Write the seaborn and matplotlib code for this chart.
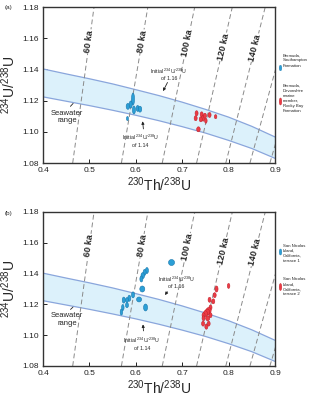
import numpy as np
import pandas as pd
import seaborn as sns
import matplotlib
matplotlib.use("Agg")
import matplotlib.pyplot as plt
from matplotlib.patches import Ellipse

# isochron ages and their 230Th/238U values at the bottom (1.08) and top (1.18) of the axes
ages = [60, 80, 100, 120, 140, 160, 180]
age_labels = ["60 ka", "80 ka", "100 ka", "120 ka", "140 ka", None, None]
th_at_108 = [0.464, 0.569, 0.657, 0.731, 0.794, 0.846, 0.889]
th_at_118 = [0.510, 0.626, 0.727, 0.808, 0.879, 0.938, 0.987]

# seawater band edges (initial 234U/238U of 1.16 and 1.14)
band_th = [0.40, 0.45, 0.50, 0.55, 0.60, 0.65, 0.70, 0.75, 0.80, 0.85, 0.90]
band_upper = [1.1403, 1.1371, 1.1340, 1.1307, 1.1270, 1.1232, 1.1190, 1.1144, 1.1094, 1.1035, 1.0967]
band_lower = [1.1224, 1.1196, 1.1168, 1.1138, 1.1106, 1.1071, 1.1033, 1.0992, 1.0945, 1.0893, 1.0830]

# (a) Bermuda
a_blue_th = [0.594, 0.583, 0.589, 0.596, 0.604, 0.609, 0.582]
a_blue_u = [1.1210, 1.1163, 1.1175, 1.1140, 1.1150, 1.1145, 1.1085]
a_blue_w = [0.0065, 0.0076, 0.0065, 0.0065, 0.0065, 0.0076, 0.0043]
a_blue_h = [0.0077, 0.0038, 0.0045, 0.0051, 0.0038, 0.0038, 0.0026]

a_red_th = [0.731, 0.729, 0.742, 0.745, 0.749, 0.751, 0.759, 0.772, 0.735, 0.740]
a_red_u = [1.1119, 1.1087, 1.1112, 1.1087, 1.1103, 1.1071, 1.1108, 1.1097, 1.1016, 1.1080]
a_red_w = [0.0065, 0.0065, 0.0065, 0.0065, 0.0065, 0.0054, 0.0065, 0.0054, 0.0076, 0.0065]
a_red_h = [0.0032, 0.0032, 0.0032, 0.0038, 0.0032, 0.0032, 0.0032, 0.0026, 0.0032, 0.0032]

# (b) San Nicolas Island
b_blue_th = [0.677, 0.624, 0.619, 0.615, 0.612, 0.614, 0.607, 0.621, 0.594, 0.586, 0.581, 0.574, 0.572, 0.569, 0.581]
b_blue_u = [1.1472, 1.1420, 1.1408, 1.1387, 1.1365, 1.1300, 1.1232, 1.1180, 1.1262, 1.1240, 1.1228, 1.1228, 1.1180, 1.1150, 1.1195]
b_blue_w = [0.0130, 0.0065, 0.0065, 0.0076, 0.0065, 0.0108, 0.0108, 0.0086, 0.0065, 0.0065, 0.0065, 0.0065, 0.0054, 0.0054, 0.0065]
b_blue_h = [0.0039, 0.0039, 0.0039, 0.0039, 0.0039, 0.0039, 0.0032, 0.0045, 0.0039, 0.0039, 0.0032, 0.0039, 0.0039, 0.0039, 0.0032]

b_red_th = [0.800, 0.774, 0.770, 0.767, 0.759, 0.761, 0.757, 0.754, 0.750, 0.746, 0.761, 0.755, 0.746, 0.745, 0.757, 0.752]
b_red_u = [1.1320, 1.1300, 1.1260, 1.1220, 1.1230, 1.1180, 1.1160, 1.1150, 1.1140, 1.1130, 1.1130, 1.1110, 1.1110, 1.1075, 1.1075, 1.1055]
b_red_w = [0.0054, 0.0065, 0.0065, 0.0065, 0.0065, 0.0065, 0.0108, 0.0108, 0.0086, 0.0065, 0.0065, 0.0086, 0.0065, 0.0065, 0.0065, 0.0065]
b_red_h = [0.0032, 0.0039, 0.0032, 0.0032, 0.0032, 0.0032, 0.0039, 0.0039, 0.0039, 0.0032, 0.0032, 0.0032, 0.0032, 0.0032, 0.0032, 0.0032]

x_ticks = [0.4, 0.5, 0.6, 0.7, 0.8, 0.9]
y_ticks = [1.08, 1.10, 1.12, 1.14, 1.16, 1.18]

BLUE, BLUE_EDGE = "#2b9fd6", "#1b78ad"
RED, RED_EDGE = "#ec3b45", "#c4222c"

sns.set_style("white")
plt.rcParams["font.family"] = ["Liberation Sans", "DejaVu Sans"]
plt.rcParams["mathtext.fontset"] = "custom"
plt.rcParams["mathtext.rm"] = "Liberation Sans"
plt.rcParams["mathtext.it"] = "Liberation Sans"

W, H = 320, 398
fig = plt.figure(figsize=(W / 100, H / 100), dpi=100)


def px_box(left, top, right, bottom):
    return [left / W, 1 - bottom / H, (right - left) / W, (bottom - top) / H]


iso = pd.DataFrame({
    "age": np.repeat(ages, 2),
    "th": [v for pair in zip(th_at_108, th_at_118) for v in pair],
    "u": [1.08, 1.18] * len(ages),
})


def draw_panel(ax, blue, red, label_y, ann):
    ax.set_xlim(0.4, 0.9)
    ax.set_ylim(1.08, 1.18)

    poly_x = band_th + band_th[::-1]
    poly_y = band_upper + band_lower[::-1]
    ax.fill(poly_x, poly_y, color="#dcf1fb", lw=0, zorder=1)
    sns.lineplot(x=band_th, y=band_upper, ax=ax, color="#8aa6dc", lw=0.9, zorder=2)
    sns.lineplot(x=band_th, y=band_lower, ax=ax, color="#8aa6dc", lw=0.9, zorder=2)

    sns.lineplot(data=iso, x="th", y="u", units="age", estimator=None, sort=False,
                 ax=ax, color="#8a8a8a", lw=0.7, linestyle=(0, (5, 3)), zorder=3)

    for (xs, ys, ws, hs), fc, ec in [(blue, BLUE, BLUE_EDGE), (red, RED, RED_EDGE)]:
        for x, y, w, h in zip(xs, ys, ws, hs):
            ax.add_patch(Ellipse((x, y), w, h, fc=fc, ec=ec, lw=0.4, zorder=5))

    # age labels sitting on the isochrons
    for lab, xb, xt, ly in zip(age_labels, th_at_108, th_at_118, label_y):
        if lab is None:
            continue
        p1 = ax.transData.transform((xb, 1.08))
        p2 = ax.transData.transform((xt, 1.18))
        ang = np.degrees(np.arctan2(p2[1] - p1[1], p2[0] - p1[0]))
        lx = xb + (ly - 1.08) / 0.1 * (xt - xb)
        ax.text(lx, ly, lab, rotation=ang, rotation_mode="anchor", ha="center", va="center",
                fontsize=6.5, fontweight="bold", zorder=6,
                bbox=dict(fc="white", ec="none", pad=0.6))

    sw, sw_line, i16, i16_arrow, i14, i14_arrow = ann
    ax.text(sw[0], sw[1], "Seawater\nrange", ha="center", va="center", fontsize=5.5,
            linespacing=1.05, zorder=6)
    ax.annotate("", xy=sw_line[1], xytext=sw_line[0],
                arrowprops=dict(arrowstyle="-", lw=0.6, color="#222222"), zorder=6)
    txt16 = r"Initial $^{234}$U/$^{238}$U" + "\nof 1.16"
    txt14 = r"Initial $^{234}$U/$^{238}$U" + "\nof 1.14"
    ax.text(i16[0], i16[1], txt16, ha="center", va="center", fontsize=3.8, linespacing=1.1, zorder=6)
    ax.annotate("", xy=i16_arrow[1], xytext=i16_arrow[0],
                arrowprops=dict(arrowstyle="-|>", lw=0.6, color="#222222",
                                mutation_scale=4), zorder=6)
    ax.text(i14[0], i14[1], txt14, ha="center", va="center", fontsize=3.8, linespacing=1.1, zorder=6)
    ax.annotate("", xy=i14_arrow[1], xytext=i14_arrow[0],
                arrowprops=dict(arrowstyle="-|>", lw=0.6, color="#222222",
                                mutation_scale=4), zorder=6)

    ax.set_xticks(x_ticks)
    ax.set_xticklabels([f"{t:.1f}" for t in x_ticks])
    ax.set_yticks(y_ticks)
    ax.set_yticklabels([f"{t:.2f}" for t in y_ticks])
    ax.tick_params(direction="in", length=3, width=0.7, labelsize=6, pad=3,
                   bottom=True, left=True, colors="#222222")
    for s in ax.spines.values():
        s.set_linewidth(1.0)
        s.set_color("#333333")
        s.set_zorder(7)
    ax.set_xlabel(r"$^{230}$Th/$^{238}$U", fontsize=10, labelpad=1)
    ax.set_ylabel(r"$^{234}$U/$^{238}$U", fontsize=10, labelpad=3)


def legend_entry(y_marker, h_marker, y_text, text, fc, ec):
    fig.add_artist(Ellipse((280.5 / W, 1 - y_marker / H), 2.6 / W, h_marker / H,
                           transform=fig.transFigure, fc=fc, ec=ec, lw=0.3))
    fig.text(283 / W, 1 - y_text / H, text, ha="left", va="center", fontsize=3.1,
             linespacing=1.35, color="#222222")


ax_a = fig.add_axes(px_box(43, 7, 275, 163))
draw_panel(ax_a, (a_blue_th, a_blue_u, a_blue_w, a_blue_h),
           (a_red_th, a_red_u, a_red_w, a_red_h),
           [1.158, 1.158, 1.157, 1.1545, 1.154],
           ((0.452, 1.1097), ((0.455, 1.1150), (0.469, 1.1195)),
            (0.671, 1.1370), ((0.671, 1.1332), (0.656, 1.1245)),
            (0.610, 1.0946), ((0.617, 1.1001), (0.614, 1.1085))))
fig.text(5 / W, 1 - 7 / H, "(a)", fontsize=4.5, ha="left", va="center")
legend_entry(68, 5.5, 60.5, "Bermuda,\nSouthampton\nFormation", BLUE, BLUE_EDGE)
legend_entry(101.5, 7, 98.5, "Bermuda,\nDevonshire\nmarine\nmember,\nRocky Bay\nFormation", RED, RED_EDGE)

ax_b = fig.add_axes(px_box(43, 212, 275, 366))
draw_panel(ax_b, (b_blue_th, b_blue_u, b_blue_w, b_blue_h),
           (b_red_th, b_red_u, b_red_w, b_red_h),
           [1.158, 1.158, 1.157, 1.1545, 1.154],
           ((0.452, 1.1102), ((0.455, 1.1155), (0.469, 1.1195)),
            (0.688, 1.1347), ((0.671, 1.1298), (0.660, 1.1245)),
            (0.613, 1.0946), ((0.617, 1.1010), (0.615, 1.1088))))
fig.text(5 / W, 1 - 213 / H, "(b)", fontsize=4.5, ha="left", va="center")
legend_entry(252, 6, 253.4, "San Nicolas\nIsland,\nCalifornia,\nterrace 1", BLUE, BLUE_EDGE)
legend_entry(287, 7, 286.7, "San Nicolas\nIsland,\nCalifornia,\nterrace 2", RED, RED_EDGE)

fig.savefig("out.png", dpi=100)
